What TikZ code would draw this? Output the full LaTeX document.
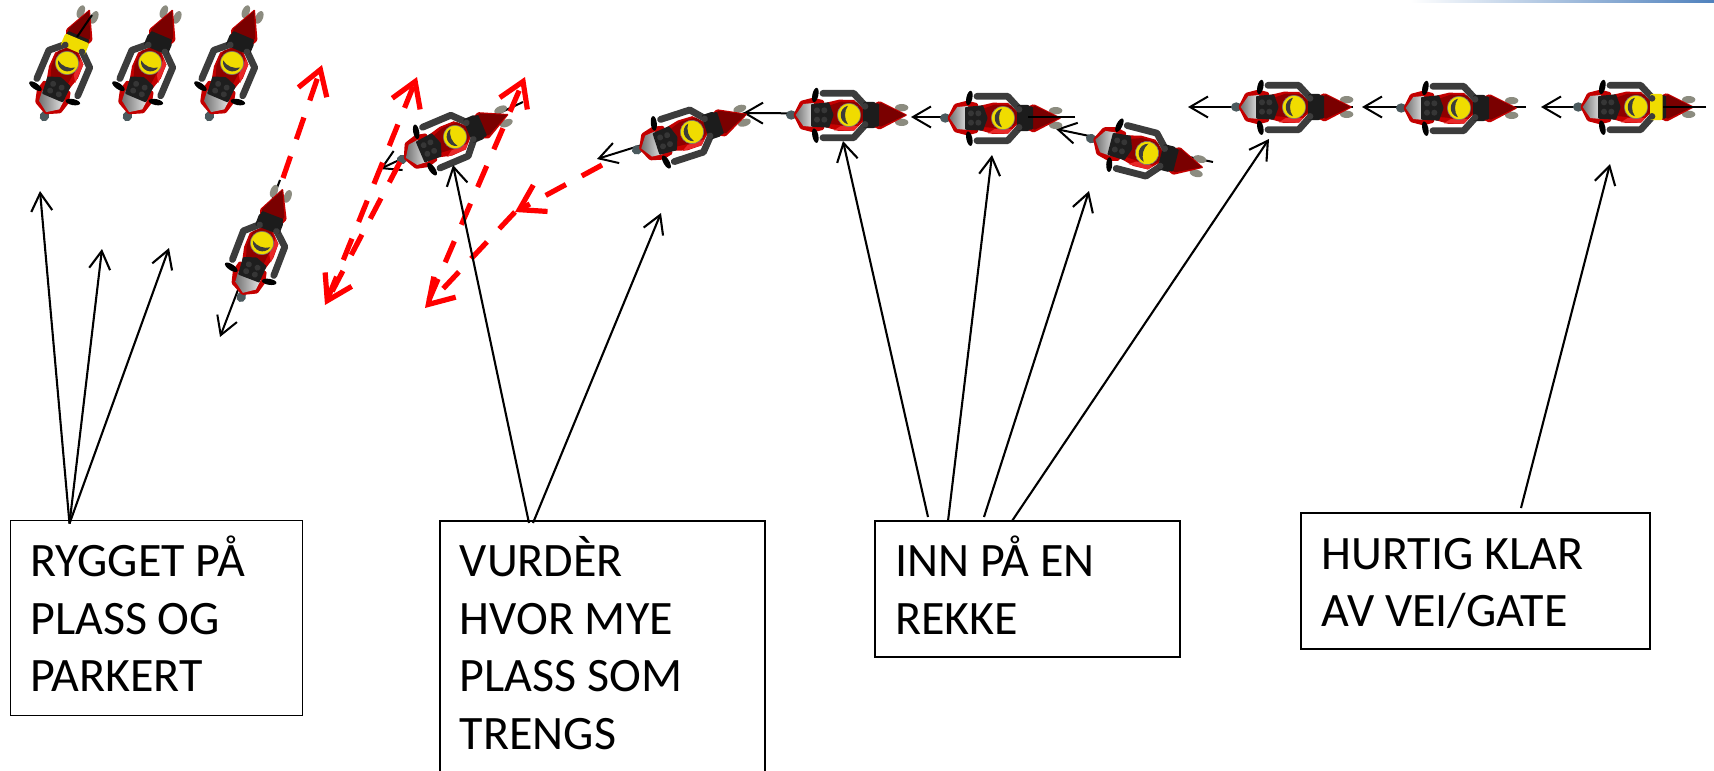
\documentclass[tikz,border=0pt]{standalone}
\usepackage{fontspec}
\setmainfont{Carlito}
\usetikzlibrary{arrows.meta}
\definecolor{tailred}{HTML}{7A0000}
\definecolor{fairred}{HTML}{C40000}
\definecolor{bodyred}{HTML}{8E0000}
\definecolor{hilite}{HTML}{E82828}
\definecolor{armgray}{HTML}{3C3C3C}
\definecolor{clusterk}{HTML}{1E1E1E}
\definecolor{blobk}{HTML}{363636}
\definecolor{reartire}{HTML}{8C8C80}
\definecolor{fronttire}{HTML}{4B5A5E}
\definecolor{helmetyel}{HTML}{F0DC00}
\definecolor{torsodark}{HTML}{1C1C1C}
\definecolor{dashred}{HTML}{FF0000}
\definecolor{topblue}{HTML}{4F81BD}
\newcommand\firstline{\spaceskip=.226em\relax\rule{0pt}{22pt}}
\newcommand\lastdrop[1]{\rule[-#1]{0pt}{0pt}}
\tikzset{
  pics/bike/.style={code={
    \begin{scope}[x=.1667pt,y=.1667pt]
      \fill[fronttire] (-173,0) ellipse [x radius=16,y radius=14];
      \fill[reartire] (158,22) ellipse [x radius=20,y radius=11];
      \fill[reartire] (158,-22) ellipse [x radius=20,y radius=11];
      \fill[fairred,rounded corners=.6pt] (70,32)--(92,42)--(176,0)--(92,-44)--(70,-34)--cycle;
      \fill[tailred] (76,30)--(96,36)--(170,0)--(96,-35)--(76,-29)--cycle;
      \fill[fairred,rounded corners=.6pt] (-167,0)--(-146,42)--(-108,52)--(-75,44)--(-75,-44)--(-108,-52)--(-146,-42)--cycle;
      \shade[left color=black!55,right color=black!10] (-160,0)--(-137,33)--(-105,36)--(-105,-36)--(-137,-33)--cycle;
      \fill[fairred] (-72,36)--(-30,46)--(15,45)--(42,20)--(42,-20)--(15,-47)--(-30,-48)--(-72,-36)--cycle;
      \fill[bodyred] (-60,28)--(-25,40)--(24,38)--(44,14)--(44,-14)--(20,-30)--(-25,-30)--(-60,-27)--cycle;
      \fill[hilite] (-45,-46)--(15,-47)--(28,-33)--(-25,-33)--cycle;
      \fill[torsodark,rounded corners=.6pt] (55,-35) rectangle (90,35);
      \fill[clusterk,rounded corners=.4pt] (-114,33)--(-60,38)--(-46,0)--(-60,-38)--(-114,-35)--cycle;
      \foreach \bx/\by in {-96/14,-96/-14,-74/14,-74/-14}{\fill[blobk] (\bx,\by) circle [radius=9];}
      \fill[black,rotate around={-12:(-101,60)}] (-101,60) ellipse [x radius=9,y radius=22];
      \fill[black,rotate around={12:(-101,-62)}] (-101,-62) ellipse [x radius=9,y radius=22];
      \draw[armgray,line width=3.4pt,line cap=round,line join=round] (-78,65)--(14,65)--(48,28);
      \draw[armgray,line width=3.4pt,line cap=round,line join=round] (-78,-68)--(14,-68)--(48,-30);
      \fill[#1,rounded corners=1pt] (42,-39) rectangle (80,39);
      \fill[armgray] (48,26) circle [radius=10];
      \fill[armgray] (48,-28) circle [radius=10];
      \fill[helmetyel,draw=armgray!70,line width=.3pt] (0,0) circle [radius=35];
      \fill[armgray] (-3,28) .. controls (-32,20) and (-32,-20) .. (-3,-28) .. controls (-15,-12) and (-15,12) .. (-3,28);
    \end{scope}
  }},
  textbox/.style={draw=black,line width=.85pt,anchor=north west,align=left,inner ysep=0pt,
    font=\fontsize{24}{28.8}\selectfont},
  motion/.style={black,line width=1pt,-{Straight Barb[length=9pt,width=10.5pt]}},
  stubline/.style={black,line width=1pt},
  callout/.style={black,line width=1.05pt,-{Straight Barb[length=9pt,width=10.5pt]}},
  redpath/.style={dashred,line width=2.6pt,dash pattern=on 11.5pt off 9pt,-{Straight Barb[length=12pt,width=15pt]}},
}
\begin{document}
\begin{tikzpicture}[x=.5pt,y=-.5pt]
\useasboundingbox (0,0) rectangle (1714,771);
\clip (0,0) rectangle (1714,771);
\fill[white] (0,0) rectangle (1714,771);
\shade[left color=white,right color=topblue] (1410,0) rectangle (1714,2.5);

% motion coordinates
\coordinate (t4) at (280,180);   \coordinate (h4) at (220,337);
\coordinate (t5) at (523,102);   \coordinate (h5) at (380,169);
\coordinate (t6) at (745,113);   \coordinate (h6) at (597,159);
\coordinate (t7) at (895,114);   \coordinate (h7) at (743,113);
\coordinate (t8) at (1075,117);  \coordinate (h8) at (911,117);
\coordinate (t9) at (1213,162);  \coordinate (h9) at (1056,129);
\coordinate (t10) at (1353,107); \coordinate (h10) at (1188,107);
\coordinate (t11) at (1526,107); \coordinate (h11) at (1362,107);
\coordinate (t12) at (1706,107); \coordinate (h12) at (1541,107);
\foreach \n in {4,...,12}{\draw[motion] (t\n) -- (h\n);}

% bikes
\pic[rotate=67] at (67,63) {bike=helmetyel};
\pic[rotate=67] at (150,63) {bike=torsodark};
\pic[rotate=67] at (232,63) {bike=torsodark};
\pic[rotate=69] at (262,243) {bike=torsodark};
\pic[rotate=23] at (455,137) {bike=torsodark};
\pic[rotate=18] at (692,132) {bike=torsodark};
\pic at (849,115) {bike=torsodark};
\pic at (1003,118) {bike=torsodark};
\pic[rotate=-14.5] at (1147,153) {bike=torsodark};
\pic at (1294,107) {bike=torsodark};
\pic at (1459,108) {bike=torsodark};
\pic at (1636,107) {bike=helmetyel};

% lines over tails
\coordinate (o1a) at (92,15);    \coordinate (o1b) at (77,37);
\coordinate (o8b) at (1028,117);
\coordinate (o12b) at (1663,107);
\draw[stubline] (o1a) -- (o1b);
\draw[stubline] (t8) -- (o8b);
\draw[stubline] (t12) -- (o12b);

% red paths
\coordinate (ra0) at (283,178);  \coordinate (ra1) at (322,65);
\coordinate (rb0) at (328,298);  \coordinate (rb1) at (417,77);
\coordinate (rc0) at (400,162);  \coordinate (rc1) at (325,305);
\coordinate (rd0) at (429,300);  \coordinate (rd1) at (525,77);
\coordinate (re0) at (602,165);  \coordinate (re1) at (515,212);
\coordinate (rf1) at (425,308);
\draw[redpath] (ra0) -- (ra1);
\draw[redpath] (rb0) -- (rb1);
\draw[redpath] (rc0) -- (rc1);
\draw[redpath] (rd0) -- (rd1);
\draw[redpath] (re0) -- (re1);
\draw[redpath] (re1) -- (rf1);

% text boxes
\node[textbox,minimum width=146pt,minimum height=97.5pt,text width=126pt,inner xsep=10pt] (b1) at (9.5,519.5) {\firstline RYGGET PÅ\\PLASS OG\\PARKERT\lastdrop{5.5pt}};
\node[textbox,minimum width=162.5pt,minimum height=126pt,text width=142.5pt,inner xsep=10pt] (b2) at (439,520) {\firstline VURDÈR\\HVOR MYE\\PLASS SOM\\TRENGS\lastdrop{6pt}};
\node[textbox,minimum width=152.5pt,minimum height=68pt,text width=132pt,inner xsep=10.25pt] (b3) at (874,520) {\firstline INN PÅ EN\\REKKE\lastdrop{5.5pt}};
\node[textbox,minimum width=174.5pt,minimum height=68pt,text width=154pt,inner xsep=10.25pt] (b4) at (1300,512) {\firstline HURTIG KLAR\\AV VEI/GATE\lastdrop{5pt}};

% callouts
\coordinate (c1) at (40,191);
\coordinate (c2) at (102,249);
\coordinate (c3) at (169,248);
\coordinate (c4) at (453,165);
\coordinate (c5) at (661,213);
\coordinate (c6) at (843,141);
\coordinate (c7) at (992,155);
\coordinate (c8) at (1089,191);
\coordinate (c9) at (1269,139);
\coordinate (c10) at (1610,164);
\draw[callout] ([shift={(60,4)}]b1.north west) -- (c1);
\draw[callout] ([shift={(60,4)}]b1.north west) -- (c2);
\draw[callout] ([shift={(60,4)}]b1.north west) -- (c3);
\draw[callout] ([shift={(90,3)}]b2.north west) -- (c4);
\draw[callout] ([shift={(94,3)}]b2.north west) -- (c5);
\draw[callout] ([shift={(54,-3)}]b3.north west) -- (c6);
\draw[callout] ([shift={(74,1)}]b3.north west) -- (c7);
\draw[callout] ([shift={(110,-3)}]b3.north west) -- (c8);
\draw[callout] ([shift={(138,1)}]b3.north west) -- (c9);
\draw[callout] ([shift={(221,-4)}]b4.north west) -- (c10);
\end{tikzpicture}
\end{document}
